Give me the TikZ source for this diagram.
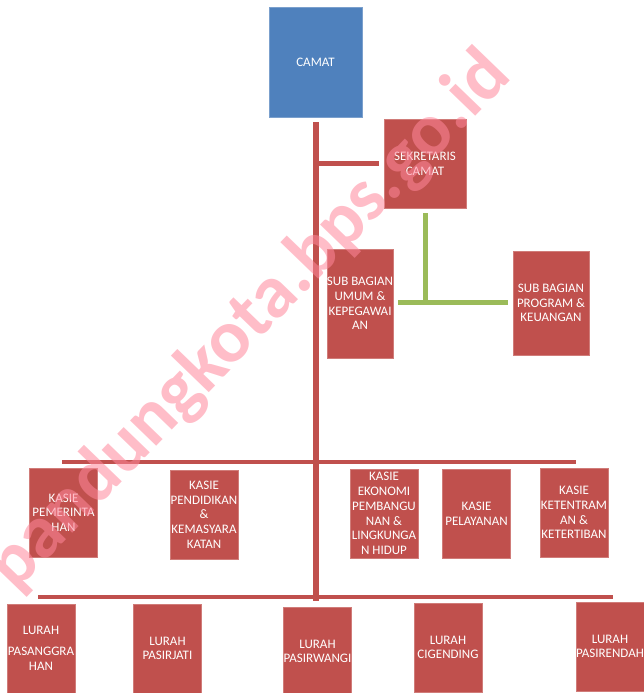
\documentclass[tikz,border=0pt]{standalone}
\usepackage{fontspec}
\setmainfont{Carlito}
\definecolor{unitred}{HTML}{C0504D}
\definecolor{unitblue}{HTML}{4F81BD}
\definecolor{unitgreen}{HTML}{9BBB59}
\definecolor{markpink}{RGB}{255,135,155}
\tikzset{
  unit/.style={fill=unitred, draw=unitred!75!white, line width=0.6pt, text=white,
    align=center, inner sep=0pt, font=\fontsize{13}{14.7}\selectfont},
  kasie/.style={unit, minimum width=68pt, minimum height=89pt},
  lurah/.style={unit, minimum width=68pt, minimum height=89pt},
  redline/.style={draw=unitred, line width=#1},
  greenline/.style={draw=unitgreen, line width=5pt},
  watermark/.style={text=markpink, opacity=0.55, inner sep=0pt,
    font=\bfseries\fontsize{75}{75}\selectfont}
}
\begin{document}
\begin{tikzpicture}[x=1pt,y=-1pt]
 \useasboundingbox (0,0) rectangle (643,693);

 %top of the chart
 \node[unit, fill=unitblue, draw=unitblue!75!white, minimum width=93pt, minimum height=110pt] (camat) at (315.5,62) {CAMAT};
 \node[unit, minimum width=82pt, minimum height=89pt] (sekretaris) at (425,163.5) {SEKRETARIS\\CAMAT};
 \node[unit, minimum width=66pt, minimum height=109pt] (umum) at (360,303.5) {SUB BAGIAN\\UMUM \&\\KEPEGAWAI\\AN};
 \node[unit, minimum width=76pt, minimum height=104pt] (program) at (551,303) {SUB BAGIAN\\PROGRAM \&\\KEUANGAN};

 %kasie row
 \node[kasie] (pemerintahan) at (63.5,512.5) {KASIE\\PEMERINTA\\HAN};
 \node[kasie] (pendidikan) at (204,514.5) {KASIE\\PENDIDIKAN\\\&\\KEMASYARA\\KATAN};
 \node[kasie] (ekonomi) at (384,513.5) {KASIE\\EKONOMI\\PEMBANGU\\NAN \&\\LINGKUNGA\\N HIDUP};
 \node[kasie] (pelayanan) at (476.5,513.5) {KASIE\\PELAYANAN};
 \node[kasie] (ketentraman) at (574,512.5) {KASIE\\KETENTRAM\\AN \&\\KETERTIBAN};

 %lurah row
 \node[lurah] (pasanggrahan) at (41,648.5) {LURAH\\[6pt]PASANGGRA\\HAN};
 \node[lurah] (pasirjati) at (167.5,648.5) {LURAH\\PASIRJATI};
 \node[lurah] (pasirwangi) at (317.5,651.5) {LURAH\\PASIRWANGI};
 \node[lurah] (cigending) at (448,647.5) {LURAH\\CIGENDING};
 \node[lurah] (pasirendah) at (610,646.5) {LURAH\\PASIRENDAH};

 %points on the lines
 \coordinate (trunktop) at (316,122);
 \coordinate (trunkbot) at (316,601);
 \coordinate (sekjoin) at (316,163.5);
 \coordinate (greenjoin) at (425,302.5);
 \coordinate (kasieL) at (62,462);
 \coordinate (kasieR) at (576,462);
 \coordinate (lurahL) at (38,597);
 \coordinate (lurahR) at (613,597);

 %draw the lines
 \draw[redline=6pt] (trunktop) -- (trunkbot);
 \draw[redline=5pt] (sekjoin) -- ([xshift=-5pt]sekretaris.west);
 \draw[greenline] ([yshift=-5pt]sekretaris.south) -- ([yshift=-2.5pt]greenjoin);
 \draw[greenline] ([xshift=5pt]umum.east |- greenjoin) -- ([xshift=-5pt]program.west |- greenjoin);
 \draw[redline=4pt] (kasieL) -- (kasieR);
 \draw[redline=4pt] (lurahL) -- (lurahR);

 %watermark
 \node[watermark, rotate=46] (wm) at (250,321) {pandungkota.bps.go.id};
\end{tikzpicture}
\end{document}
